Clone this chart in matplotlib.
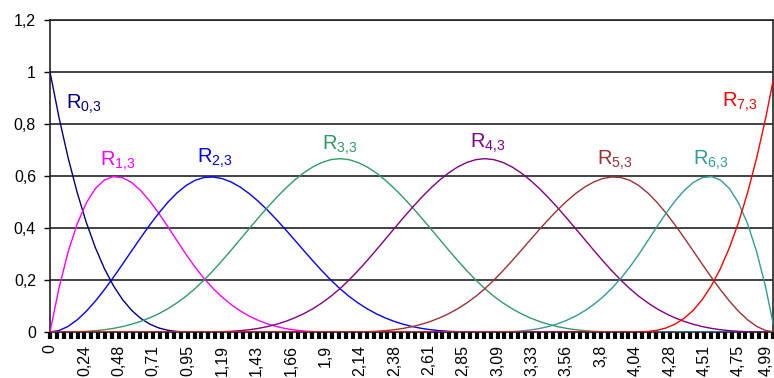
import numpy as np
import matplotlib
matplotlib.use("Agg")
import matplotlib.pyplot as plt
import matplotlib.transforms as mtransforms

plt.rcParams['font.family'] = ['Liberation Sans', 'DejaVu Sans']
plt.rcParams['mathtext.fontset'] = 'custom'
plt.rcParams['mathtext.rm'] = 'Liberation Sans'
plt.rcParams['mathtext.it'] = 'Liberation Sans'

# sample positions (parameter value u), 1/16 apart from 0 to 5
x = [0.0000, 0.0625, 0.1250, 0.1875, 0.2500, 0.3125, 0.3750, 0.4375,
     0.5000, 0.5625, 0.6250, 0.6875, 0.7500, 0.8125, 0.8750, 0.9375,
     1.0000, 1.0625, 1.1250, 1.1875, 1.2500, 1.3125, 1.3750, 1.4375,
     1.5000, 1.5625, 1.6250, 1.6875, 1.7500, 1.8125, 1.8750, 1.9375,
     2.0000, 2.0625, 2.1250, 2.1875, 2.2500, 2.3125, 2.3750, 2.4375,
     2.5000, 2.5625, 2.6250, 2.6875, 2.7500, 2.8125, 2.8750, 2.9375,
     3.0000, 3.0625, 3.1250, 3.1875, 3.2500, 3.3125, 3.3750, 3.4375,
     3.5000, 3.5625, 3.6250, 3.6875, 3.7500, 3.8125, 3.8750, 3.9375,
     4.0000, 4.0625, 4.1250, 4.1875, 4.2500, 4.3125, 4.3750, 4.4375,
     4.5000, 4.5625, 4.6250, 4.6875, 4.7500, 4.8125, 4.8750, 4.9375,
     5.0000]

R0 = [1.0000, 0.8240, 0.6699, 0.5364, 0.4219, 0.3250, 0.2441, 0.1780,
      0.1250, 0.0837, 0.0527, 0.0305, 0.0156, 0.0066, 0.0020, 0.0002,
      0, 0, 0, 0, 0, 0, 0, 0, 0, 0, 0, 0, 0, 0, 0, 0,
      0, 0, 0, 0, 0, 0, 0, 0, 0, 0, 0, 0, 0, 0, 0, 0,
      0, 0, 0, 0, 0, 0, 0, 0, 0, 0, 0, 0, 0, 0, 0, 0,
      0, 0, 0, 0, 0, 0, 0, 0, 0, 0, 0, 0, 0, 0, 0, 0,
      0]
R1 = [0.0000, 0.1703, 0.3081, 0.4158, 0.4961, 0.5515, 0.5845, 0.5977,
      0.5938, 0.5751, 0.5444, 0.5042, 0.4570, 0.4055, 0.3521, 0.2994,
      0.2500, 0.2060, 0.1675, 0.1341, 0.1055, 0.0812, 0.0610, 0.0445,
      0.0313, 0.0209, 0.0132, 0.0076, 0.0039, 0.0016, 0.0005, 0.0001,
      0, 0, 0, 0, 0, 0, 0, 0, 0, 0, 0, 0, 0, 0, 0, 0,
      0, 0, 0, 0, 0, 0, 0, 0, 0, 0, 0, 0, 0, 0, 0, 0,
      0, 0, 0, 0, 0, 0, 0, 0, 0, 0, 0, 0, 0, 0, 0, 0,
      0]
R2 = [0.0000, 0.0056, 0.0216, 0.0467, 0.0794, 0.1185, 0.1626, 0.2103,
      0.2604, 0.3115, 0.3621, 0.4111, 0.4570, 0.4986, 0.5343, 0.5630,
      0.5833, 0.5942, 0.5962, 0.5901, 0.5768, 0.5572, 0.5321, 0.5023,
      0.4688, 0.4323, 0.3937, 0.3539, 0.3138, 0.2741, 0.2358, 0.1997,
      0.1667, 0.1373, 0.1117, 0.0894, 0.0703, 0.0542, 0.0407, 0.0297,
      0.0208, 0.0140, 0.0088, 0.0051, 0.0026, 0.0011, 0.0003, 0.0000,
      0, 0, 0, 0, 0, 0, 0, 0, 0, 0, 0, 0, 0, 0, 0, 0,
      0, 0, 0, 0, 0, 0, 0, 0, 0, 0, 0, 0, 0, 0, 0, 0,
      0]
R3 = [0.0000, 0.0000, 0.0003, 0.0011, 0.0026, 0.0051, 0.0088, 0.0140,
      0.0208, 0.0297, 0.0407, 0.0542, 0.0703, 0.0894, 0.1117, 0.1373,
      0.1667, 0.1997, 0.2360, 0.2747, 0.3151, 0.3565, 0.3981, 0.4393,
      0.4792, 0.5171, 0.5524, 0.5843, 0.6120, 0.6348, 0.6520, 0.6629,
      0.6667, 0.6629, 0.6520, 0.6348, 0.6120, 0.5843, 0.5524, 0.5171,
      0.4792, 0.4393, 0.3981, 0.3565, 0.3151, 0.2747, 0.2360, 0.1997,
      0.1667, 0.1373, 0.1117, 0.0894, 0.0703, 0.0542, 0.0407, 0.0297,
      0.0208, 0.0140, 0.0088, 0.0051, 0.0026, 0.0011, 0.0003, 0.0000,
      0, 0, 0, 0, 0, 0, 0, 0, 0, 0, 0, 0, 0, 0, 0, 0,
      0]
R4 = [0, 0, 0, 0, 0, 0, 0, 0, 0, 0, 0, 0, 0, 0, 0, 0,
      0.0000, 0.0000, 0.0003, 0.0011, 0.0026, 0.0051, 0.0088, 0.0140,
      0.0208, 0.0297, 0.0407, 0.0542, 0.0703, 0.0894, 0.1117, 0.1373,
      0.1667, 0.1997, 0.2360, 0.2747, 0.3151, 0.3565, 0.3981, 0.4393,
      0.4792, 0.5171, 0.5524, 0.5843, 0.6120, 0.6348, 0.6520, 0.6629,
      0.6667, 0.6629, 0.6520, 0.6348, 0.6120, 0.5843, 0.5524, 0.5171,
      0.4792, 0.4393, 0.3981, 0.3565, 0.3151, 0.2747, 0.2360, 0.1997,
      0.1667, 0.1373, 0.1117, 0.0894, 0.0703, 0.0542, 0.0407, 0.0297,
      0.0208, 0.0140, 0.0088, 0.0051, 0.0026, 0.0011, 0.0003, 0.0000,
      0.0000]
R5 = [0, 0, 0, 0, 0, 0, 0, 0, 0, 0, 0, 0, 0, 0, 0, 0,
      0, 0, 0, 0, 0, 0, 0, 0, 0, 0, 0, 0, 0, 0, 0, 0,
      0.0000,
      0.0000, 0.0003, 0.0011, 0.0026, 0.0051, 0.0088, 0.0140, 0.0208,
      0.0297, 0.0407, 0.0542, 0.0703, 0.0894, 0.1117, 0.1373, 0.1667,
      0.1997, 0.2358, 0.2741, 0.3138, 0.3539, 0.3937, 0.4323, 0.4688,
      0.5023, 0.5321, 0.5572, 0.5768, 0.5901, 0.5962, 0.5942, 0.5833,
      0.5630, 0.5343, 0.4986, 0.4570, 0.4111, 0.3621, 0.3115, 0.2604,
      0.2103, 0.1626, 0.1185, 0.0794, 0.0467, 0.0216, 0.0056, 0.0000]
R6 = [0, 0, 0, 0, 0, 0, 0, 0, 0, 0, 0, 0, 0, 0, 0, 0,
      0, 0, 0, 0, 0, 0, 0, 0, 0, 0, 0, 0, 0, 0, 0, 0,
      0, 0, 0, 0, 0, 0, 0, 0, 0, 0, 0, 0, 0, 0, 0, 0,
      0.0000,
      0.0001, 0.0005, 0.0016, 0.0039, 0.0076, 0.0132, 0.0209, 0.0313,
      0.0445, 0.0610, 0.0812, 0.1055, 0.1341, 0.1675, 0.2060, 0.2500,
      0.2994, 0.3521, 0.4055, 0.4570, 0.5042, 0.5444, 0.5751, 0.5938,
      0.5977, 0.5845, 0.5515, 0.4961, 0.4158, 0.3081, 0.1703, 0.0000]
R7 = [0, 0, 0, 0, 0, 0, 0, 0, 0, 0, 0, 0, 0, 0, 0, 0,
      0, 0, 0, 0, 0, 0, 0, 0, 0, 0, 0, 0, 0, 0, 0, 0,
      0, 0, 0, 0, 0, 0, 0, 0, 0, 0, 0, 0, 0, 0, 0, 0,
      0, 0, 0, 0, 0, 0, 0, 0, 0, 0, 0, 0, 0, 0, 0, 0,
      0.0000,
      0.0002, 0.0020, 0.0066, 0.0156, 0.0305, 0.0527, 0.0837, 0.1250,
      0.1780, 0.2441, 0.3250, 0.4219, 0.5364, 0.6699, 0.8240, 1.0000]

series = [R0, R1, R2, R3, R4, R5, R6, R7]
names = [r'$\mathregular{R_{%d{,}3}}$' % i for i in range(8)]
colors = ['#000080', '#FF00FF', '#0000FF', '#339966',
          '#800080', '#993333', '#339999', '#FF0000']

# category axis labels
xtick_labels = ['0', '0,24', '0,48', '0,71', '0,95', '1,19', '1,43', '1,66',
                '1,9', '2,14', '2,38', '2,61', '2,85', '3,09', '3,33', '3,56',
                '3,8', '4,04', '4,28', '4,51', '4,75', '4,99']
ytick_vals = [0, 0.2, 0.4, 0.6, 0.8, 1.0, 1.2]
ytick_labels = ['0', '0,2', '0,4', '0,6', '0,8', '1', '1,2']

# label anchor positions (data coords)
label_pos = [(0.11, 0.858), (0.345, 0.638), (1.014, 0.650), (1.876, 0.703),
             (2.897, 0.708), (3.773, 0.642), (4.436, 0.642), (4.636, 0.865)]

step = 0.0475
ncat = 106
xmax = step * (ncat - 1)

fig = plt.figure(figsize=(7.74, 3.78), dpi=100)
ax = fig.add_axes([50 / 774, (378 - 332) / 378, 723 / 774, 312 / 378])

for yv in ytick_vals:
    ax.axhline(yv, color='#222222', lw=1.2, zorder=1)

for s, c in zip(series, colors):
    ax.plot(x, s, color=c, lw=1.0, zorder=3, clip_on=True)

for (lx, ly), nm, c in zip(label_pos, names, colors):
    ax.text(lx, ly, nm, color=c, fontsize=14.5, ha='left', va='baseline', zorder=4)

ax.set_xlim(0, xmax)
ax.set_ylim(0, 1.2)

major_pos = np.arange(len(xtick_labels)) * step * 5
ax.set_xticks(major_pos)
ax.set_xticklabels(xtick_labels, rotation=90, fontsize=11.5, va='top', ha='center')
ax.set_xticks(np.arange(ncat) * step, minor=True)
ax.tick_params(axis='x', which='both', direction='out', length=5, width=3.0,
               color='black', pad=4)
ax.set_yticks(ytick_vals)
ax.set_yticklabels(ytick_labels, fontsize=11.5)
ax.tick_params(axis='y', direction='out', length=4, width=1.0, color='black', pad=6)

# nudge the last category label so it stays inside the figure
last = ax.get_xticklabels()[-1]
last.set_transform(last.get_transform() +
                   mtransforms.ScaledTranslation(-7 / 100, 0, fig.dpi_scale_trans))

for sp in ax.spines.values():
    sp.set_color('#222222')
    sp.set_linewidth(1.2)

fig.savefig('out.png', dpi=100)
